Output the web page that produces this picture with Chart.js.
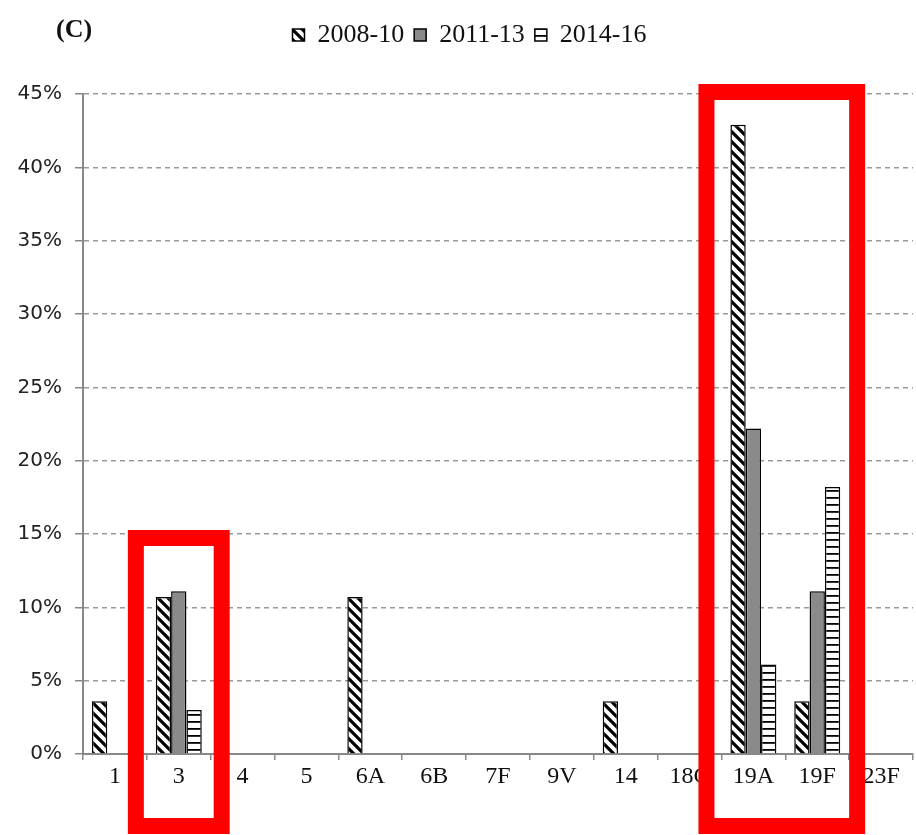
<!DOCTYPE html>
<html>
<head>
<meta charset="utf-8">
<script src="https://cdn.jsdelivr.net/npm/chart.js@4.4.0/dist/chart.umd.min.js"></script>
<style>
  html, body { margin: 0; padding: 0; background: #fff; }
</style>
</head>
<body>
<canvas id="chart" width="916" height="835"></canvas>
<script>
// serotypes on the x axis
const serotypes = ['1', '3', '4', '5', '6A', '6B', '7F', '9V', '14', '18C', '19A', '19F', '23F'];
// share of isolates (%) per period
const p2008 = [3.6, 10.7, 0, 0, 10.7, 0, 0, 0, 3.6, 0, 42.9, 3.6, 0];
const p2011 = [0, 11.1, 0, 0, 0, 0, 0, 0, 0, 0, 22.2, 11.1, 0];
const p2014 = [0, 3.0, 0, 0, 0, 0, 0, 0, 0, 0, 6.1, 18.2, 0];
const periodNames = ['2008-10', '2011-13', '2014-16'];
const yMax = 45;
const yStep = 5;

// hatch fills
function diagPattern() {
  const c = document.createElement('canvas');
  c.width = 10; c.height = 10;
  const g = c.getContext('2d');
  g.fillStyle = '#fff';
  g.fillRect(0, 0, 10, 10);
  g.strokeStyle = '#000';
  g.lineWidth = 3.2;
  g.beginPath();
  g.moveTo(-2, -2); g.lineTo(12, 12);
  g.moveTo(-2, 8); g.lineTo(2, 12);
  g.moveTo(8, -2); g.lineTo(12, 2);
  g.stroke();
  return g.createPattern(c, 'repeat');
}
function stripePattern() {
  const c = document.createElement('canvas');
  c.width = 7; c.height = 7;
  const g = c.getContext('2d');
  g.fillStyle = '#fff';
  g.fillRect(0, 0, 7, 7);
  g.fillStyle = '#000';
  g.fillRect(0, 0, 7, 1.8);
  return g.createPattern(c, 'repeat');
}

const ctx = document.getElementById('chart').getContext('2d');

// "(C)" panel mark
const panelLabel = {
  id: 'panelLabel',
  afterDraw(chart) {
    const c = chart.ctx;
    c.save();
    c.font = 'bold 26px "Liberation Serif"';
    c.fillStyle = '#111';
    c.textBaseline = 'middle';
    c.fillText('(C)', 56, 30);
    c.restore();
  }
};

// extra room under the legend, legend nudged a bit to the right
const legendTweak = {
  id: 'legendTweak',
  beforeInit(chart) {
    const lg = chart.legend;
    const fit = lg.fit;
    lg.fit = function () { fit.call(this); this.height += 36; };
    const draw = lg.draw;
    lg.draw = function () {
      this.ctx.save();
      this.ctx.translate(13, 0);
      draw.call(this);
      this.ctx.restore();
    };
  }
};

// red highlight boxes around serotype 3 and 19A/19F
const highlightBoxes = {
  id: 'highlightBoxes',
  afterDraw(chart) {
    const x = chart.scales.x, y = chart.scales.y;
    const w = x.width / serotypes.length;
    const c = chart.ctx;
    c.save();
    c.strokeStyle = '#ff0000';
    c.lineWidth = 16;
    const bottom = chart.height - 9;
    // serotype 3
    const i3 = serotypes.indexOf('3');
    let l = x.getPixelForValue(i3) - w / 2 - 11;
    let r = x.getPixelForValue(i3) + w / 2 + 11;
    let t = y.getPixelForValue(15) + 4;
    c.strokeRect(l, t, r - l, bottom - t);
    // 19A and 19F
    const ia = serotypes.indexOf('19A'), iF = serotypes.indexOf('19F');
    l = x.getPixelForValue(ia) - w / 2 - 15;
    r = x.getPixelForValue(iF) + w / 2 + 8;
    t = y.getPixelForValue(yMax) - 2;
    c.strokeRect(l, t, r - l, bottom - t);
    c.restore();
  }
};

new Chart(ctx, {
  type: 'bar',
  data: {
    labels: serotypes,
    datasets: [
      { label: periodNames[0], data: p2008, backgroundColor: diagPattern(), borderColor: '#000', borderWidth: 1.5 },
      { label: periodNames[1], data: p2011, backgroundColor: '#8a8a8a', borderColor: '#000', borderWidth: 1.5 },
      { label: periodNames[2], data: p2014, backgroundColor: stripePattern(), borderColor: '#000', borderWidth: 1.5 }
    ]
  },
  options: {
    responsive: false,
    animation: false,
    layout: { padding: { top: 12, left: 0, right: 3, bottom: 0 } },
    datasets: { bar: { categoryPercentage: 0.72, barPercentage: 1.0 } },
    plugins: {
      legend: {
        position: 'top',
        labels: {
          font: { family: '"Liberation Serif"', size: 26 },
          color: '#111',
          boxWidth: 12,
          boxHeight: 12,
          padding: 10
        }
      },
      tooltip: { enabled: false }
    },
    scales: {
      x: {
        afterFit: s => { s.height = 81; },
        grid: { display: true, drawOnChartArea: false, offset: true, tickLength: 6, color: '#888', lineWidth: 1.5 },
        border: { display: true, color: '#888', width: 2 },
        ticks: {
          font: { family: '"Liberation Serif"', size: 24 },
          color: '#111',
          padding: 2,
          maxRotation: 0,
          autoSkip: false
        }
      },
      y: {
        min: 0,
        max: yMax,
        afterFit: s => { s.width = 83; },
        grid: { color: '#999', lineWidth: 1.5, tickLength: 8, tickBorderDash: [], tickColor: '#888' },
        border: { display: true, color: '#888', width: 2, dash: [5, 4] },
        ticks: {
          stepSize: yStep,
          font: { family: '"DejaVu Sans"', size: 20 },
          color: '#222',
          padding: 13,
          callback: v => v + '%'
        }
      }
    }
  },
  plugins: [legendTweak, panelLabel, highlightBoxes]
});
</script>
</body>
</html>
